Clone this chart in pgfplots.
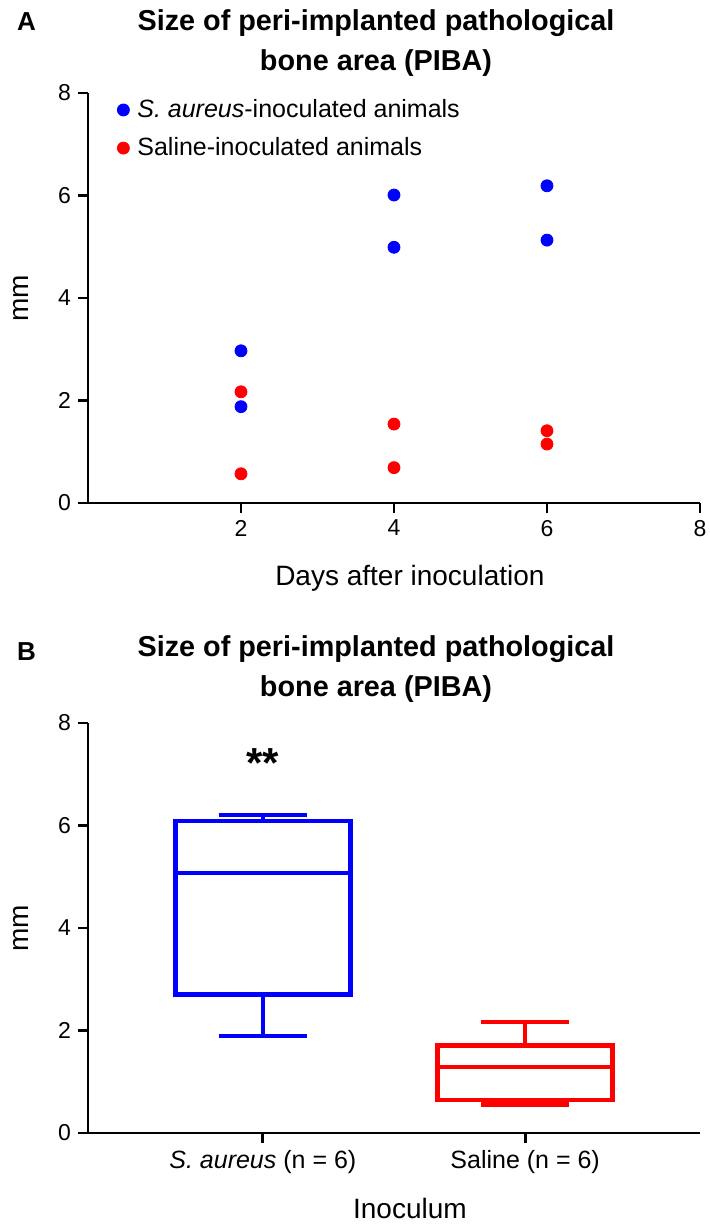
\documentclass[border=0pt]{standalone}
\usepackage{fontspec}
\setmainfont{Liberation Sans}
\usepackage{pgfplots}
\pgfplotsset{compat=1.18}
\usepgfplotslibrary{statistics}

\definecolor{sablue}{RGB}{0,0,255}
\definecolor{salred}{RGB}{255,0,0}

\pgfplotsset{
  panel/.style={
    scale only axis, width=306pt, height=205pt,
    axis x line=bottom, axis y line=left,
    axis line style={line width=1.4pt, -},
    every tick/.style={line width=1.4pt, black},
    tick align=outside, major tick length=5pt,
    ymin=0, ymax=8, ytick={0,2,4,6,8},
    /pgf/number format/assume math mode=true,
    tick label style={font=\fontsize{11.5}{13}\selectfont},
    label style={font=\fontsize{14}{16}\selectfont},
    ylabel={mm},
    ylabel style={at={(axis description cs:-0.1095,0.5)}, anchor=center},
    xlabel style={at={(axis description cs:0.526,0)}, anchor=center, yshift=-37.5pt},
  },
}
\tikzset{ttl/.style={align=center, font=\bfseries\fontsize{14.4}{20}\selectfont}}

\begin{document}
\begin{tikzpicture}
\useasboundingbox (0,0) rectangle (354.5pt,-614pt);

% panel A
\node[anchor=west, font=\bfseries\fontsize{13}{15}\selectfont] at (5pt,-11pt) {A};
\node[ttl] at (188pt,-21.5pt) {Size of peri-implanted pathological\\bone area (PIBA)};

\begin{axis}[panel,
  at={(44pt,-251.5pt)}, anchor=south west,
  xmin=0, xmax=8, xtick={2,4,6,8},
  xlabel={Days after inoculation},
  legend style={at={(axis description cs:0,1)}, anchor=north west,
    xshift=11.5pt, yshift=1pt, draw=none, fill=none,
    font=\fontsize{12.5}{15}\selectfont, row sep=4.5pt,
    nodes={inner xsep=4pt}},
  legend cell align=left,
  legend image code/.code={\draw[#1] plot coordinates {(3pt,0pt)};},
]
\addplot[only marks, mark=*, mark size=3pt, mark options={draw=sablue, fill=sablue}]
  coordinates {(2,2.97) (2,1.88) (4,6.01) (4,4.99) (6,6.19) (6,5.13)};
\addlegendentry{\textit{S. aureus}-inoculated animals}
\addplot[only marks, mark=*, mark size=3pt, mark options={draw=salred, fill=salred}]
  coordinates {(2,2.17) (2,0.57) (4,1.54) (4,0.69) (6,1.41) (6,1.15)};
\addlegendentry{Saline-inoculated animals}
\end{axis}

% panel B
\node[anchor=west, font=\bfseries\fontsize{13}{15}\selectfont] at (5pt,-326pt) {B};
\node[ttl] at (188pt,-334.5pt) {Size of peri-implanted pathological\\bone area (PIBA)};

\begin{axis}[panel,
  at={(44pt,-566.5pt)}, anchor=south west,
  xmin=0.3333, xmax=2.6667, xtick={1,2},
  xticklabels={\textit{S. aureus} (n = 6), Saline (n = 6)},
  xticklabel style={font=\fontsize{12.5}{15}\selectfont},
  xlabel={Inoculum},
  boxplot/draw direction=y,
]
\addplot[draw=sablue, line width=2.2pt,
  boxplot prepared={median=5.07, upper quartile=6.09, lower quartile=2.70,
    upper whisker=6.21, lower whisker=1.89,
    draw position=1, box extend=0.667, whisker extend=0.336}]
  coordinates {};
\addplot[draw=salred, line width=2.2pt,
  boxplot prepared={median=1.29, upper quartile=1.71, lower quartile=0.65,
    upper whisker=2.17, lower whisker=0.56,
    draw position=2, box extend=0.667, whisker extend=0.336}]
  coordinates {};
\node[anchor=base, font=\bfseries\fontsize{21}{21}\selectfont] at (axis cs:1,6.93) {**};
\end{axis}
\end{tikzpicture}
\end{document}
